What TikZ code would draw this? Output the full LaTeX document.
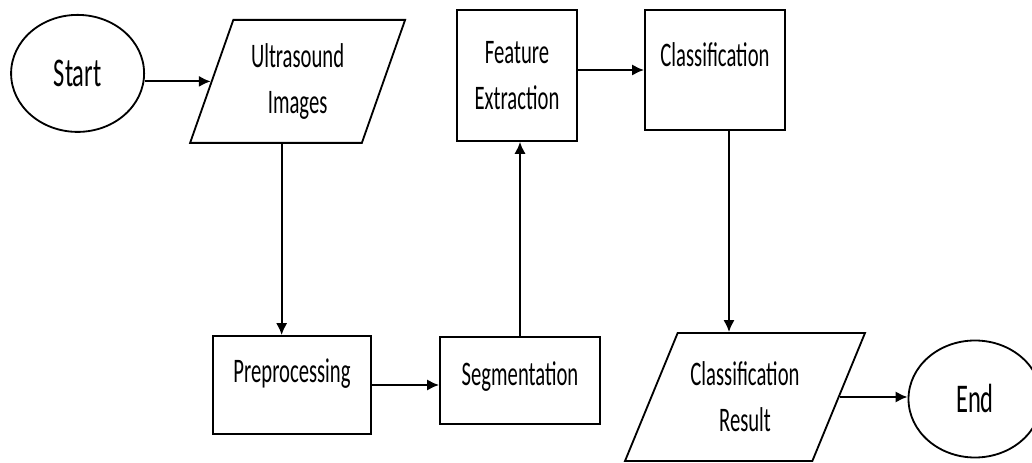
\documentclass[tikz,border=0pt]{standalone}
\usepackage{fontspec}
\setmainfont[FakeStretch=0.6]{Carlito}
\usetikzlibrary{shapes.geometric,arrows.meta}
\tikzset{every node/.style={draw,line width=1.3pt,inner sep=0pt,font=\fontsize{24.5}{32.7}\selectfont}}
\tikzset{term/.style={ellipse,minimum width=3.325cm,minimum height=2.925cm,font=\fontsize{29}{34}\selectfont,text height=18.7pt,text depth=0pt}}
\tikzset{io/.style={trapezium,trapezium stretches body,align=center}}
\tikzset{proc/.style={rectangle}}
\tikzset{a/.style={line width=1.5pt,->,>={Latex[length=8.5pt,width=8pt]}}}

\begin{document}
\begin{tikzpicture}
    \useasboundingbox (0,0) rectangle (25.8,11.575);
    \node[term] (start) at (1.94,9.74) {Start};
    \node[io,trapezium left angle=60.3,trapezium right angle=119.7,minimum width=5.375cm,minimum height=3.075cm] (ultra) at (7.44,9.54) {Ultrasound\\Images};
    \node[proc,minimum width=3.95cm,minimum height=2.45cm,text height=15.6pt,text depth=18.5pt] (preproc) at (7.3,1.95) {Preprocessing};
    \node[proc,minimum width=4cm,minimum height=2.175cm,text height=15.6pt,text depth=9.2pt] (seg) at (13,2.06) {Segmentation};
    \node[proc,minimum width=3cm,minimum height=3.275cm,align=center] (feat) at (12.925,9.69) {Feature\\Extraction};
    \node[proc,minimum width=3.5cm,minimum height=3cm,text height=15.6pt,text depth=19.9pt] (class) at (17.875,9.825) {Classification};
    \node[io,trapezium left angle=53.1,trapezium right angle=126.9,minimum width=6cm,minimum height=3.2cm] (result) at (18.625,1.65) {Classification\\Result};
    \node[term] (end) at (24.375,1.6) {End};
    \draw[a] (start.east |- ultra.west) -- (ultra.west);
    \draw[a] ([xshift=0.15cm]ultra.bottom side) -- ([xshift=0.15cm]ultra.bottom side |- preproc.north);
    \draw[a] (preproc.east) -- (preproc.east -| seg.west);
    \draw[a] (seg.north) -- (seg.north |- feat.south);
    \draw[a] (feat.east |- class.west) -- (class.west);
    \draw[a] ([xshift=0.35cm]class.south) -- ([xshift=0.35cm]class.south |- result.north);
    \draw[a] (result.east) -- (result.east -| end.west);
\end{tikzpicture}
\end{document}
